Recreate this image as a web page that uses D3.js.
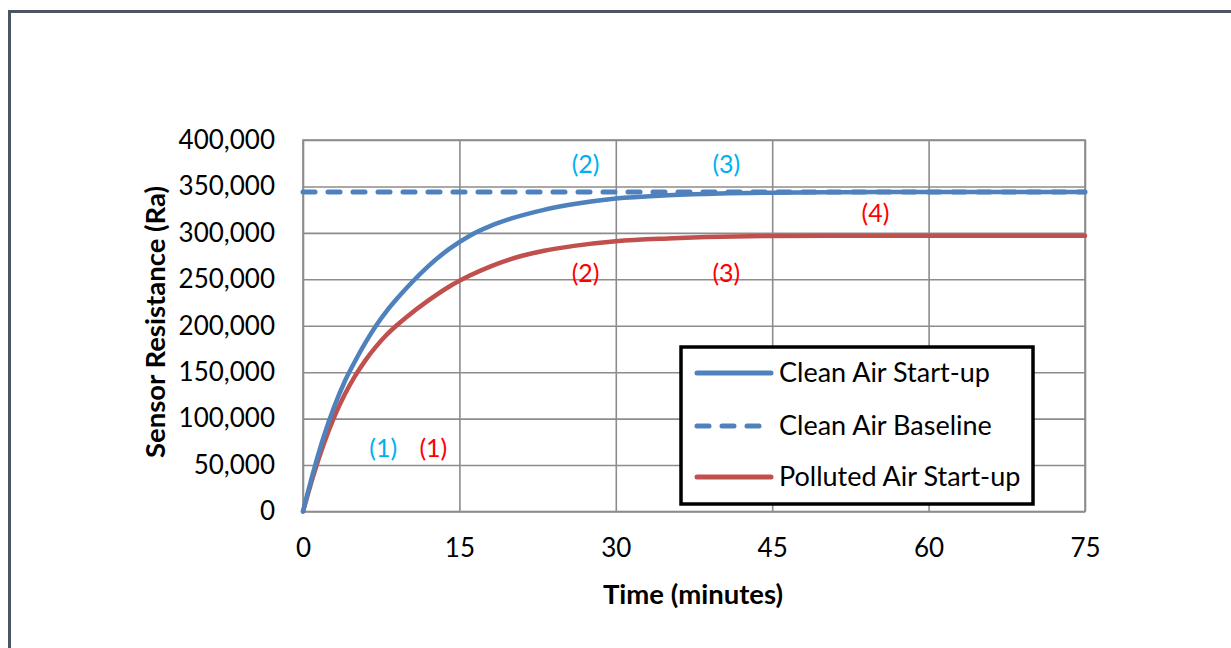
<!DOCTYPE html>
<html>
<head>
<meta charset="utf-8">
<script src="https://cdn.jsdelivr.net/npm/d3@7"></script>
<style>
  body { margin: 0; background: #fff; }
  text { font-family: Lato, 'Open Sans', sans-serif; fill: #000; }
</style>
</head>
<body>
<svg id="chart"></svg>
<script>
const width = 1231;
const height = 648;

// readings
const minutes = [0, 1, 2, 3, 4, 5, 6, 7, 8, 9, 10, 12, 14, 16, 18, 20, 23, 26, 30, 35, 40, 45, 50, 55, 60, 65, 70, 75];
const cleanStartup = [0, 43000, 81000, 113000, 140000, 162000, 182000, 200000, 215500, 229000, 241500, 264000, 282500, 297000, 307500, 315500, 324500, 331000, 337000, 340500, 342500, 343300, 343700, 344000, 344000, 344000, 344000, 344000];
const pollutedStartup = [0, 39000, 73000, 102000, 126000, 146000, 163000, 177500, 190000, 200500, 210000, 227000, 242000, 254000, 264000, 272000, 280500, 286000, 291000, 294000, 295800, 296600, 297000, 297000, 297000, 297000, 297000, 297000];
const baselineMinutes = [0, 75];
const cleanBaseline = [344000, 344000];

const xTicks = [0, 15, 30, 45, 60, 75];
const yTicks = [0, 50000, 100000, 150000, 200000, 250000, 300000, 350000, 400000];

const seriesNames = ['Clean Air Start-up', 'Clean Air Baseline', 'Polluted Air Start-up'];
const seriesColors = ['#4F81BD', '#4F81BD', '#C0504D'];

const markLabels = ['(1)', '(1)', '(2)', '(2)', '(3)', '(3)', '(4)'];
const markMinutes = [7.7, 12.5, 27.1, 27.1, 40.6, 40.6, 54.9];
const markValues = [68000, 68000, 374000, 257000, 374000, 257000, 321000];
const markColors = ['#00B0F0', '#FF0000', '#00B0F0', '#FF0000', '#00B0F0', '#FF0000', '#FF0000'];

const svg = d3.select('#chart')
    .attr('width', width)
    .attr('height', height);

// outer frame (top and left edges only are in view)
svg.append('path')
    .attr('d', `M9.5,${height} V11.5 H${width}`)
    .attr('fill', 'none')
    .attr('stroke', '#4A5561')
    .attr('stroke-width', 3);

const x = d3.scaleLinear().domain([0, 75]).range([303, 1085]);
const y = d3.scaleLinear().domain([0, 400000]).range([511.5, 140]);

const gridColor = '#8C8C8C';

const yAxis = svg.append('g')
    .attr('transform', `translate(${x(0)},0)`)
    .call(d3.axisLeft(y)
        .tickValues(yTicks)
        .tickFormat(d3.format(','))
        .tickSize(-(x(75) - x(0)))
        .tickPadding(28));
yAxis.select('.domain').remove();
yAxis.selectAll('line').attr('stroke', gridColor).attr('stroke-width', 1.6);
yAxis.selectAll('text').style('font-size', '26px').style('font-family', 'Lato');

const xAxis = svg.append('g')
    .attr('transform', `translate(0,${y(0)})`)
    .call(d3.axisBottom(x)
        .tickValues(xTicks)
        .tickSize(-(y(0) - y(400000)))
        .tickPadding(27));
xAxis.select('.domain').remove();
xAxis.selectAll('line').attr('stroke', gridColor).attr('stroke-width', 1.6);
xAxis.selectAll('text').style('font-size', '26px').style('font-family', 'Lato');

// plot area outline
svg.append('rect')
    .attr('x', x(0))
    .attr('y', y(400000))
    .attr('width', x(75) - x(0))
    .attr('height', y(0) - y(400000))
    .attr('fill', 'none')
    .attr('stroke', gridColor)
    .attr('stroke-width', 1.6);

const line = d3.line()
    .x(d => x(d[0]))
    .y(d => y(d[1]))
    .curve(d3.curveMonotoneX);

svg.append('path')
    .datum(d3.zip(baselineMinutes, cleanBaseline))
    .attr('d', line)
    .attr('fill', 'none')
    .attr('stroke', seriesColors[1])
    .attr('stroke-width', 5)
    .attr('stroke-linecap', 'round')
    .attr('stroke-dasharray', '12,13');

svg.append('path')
    .datum(d3.zip(minutes, pollutedStartup))
    .attr('d', line)
    .attr('fill', 'none')
    .attr('stroke', seriesColors[2])
    .attr('stroke-width', 4.5)
    .attr('stroke-linecap', 'round');

svg.append('path')
    .datum(d3.zip(minutes, cleanStartup))
    .attr('d', line)
    .attr('fill', 'none')
    .attr('stroke', seriesColors[0])
    .attr('stroke-width', 4.5)
    .attr('stroke-linecap', 'round');

// numbered markers
svg.append('g').selectAll('text')
    .data(markLabels)
    .enter().append('text')
    .attr('x', (d, i) => x(markMinutes[i]))
    .attr('y', (d, i) => y(markValues[i]))
    .attr('dy', '0.35em')
    .attr('text-anchor', 'middle')
    .style('font-size', '25px')
    .style('fill', (d, i) => markColors[i])
    .text(d => d);

// axis titles
svg.append('text')
    .attr('x', 693)
    .attr('y', 594)
    .attr('dy', '0.35em')
    .attr('text-anchor', 'middle')
    .style('font-size', '27.5px')
    .style('font-weight', 'bold')
    .text('Time (minutes)');

svg.append('text')
    .attr('transform', 'translate(155,322) rotate(-90)')
    .attr('dy', '0.35em')
    .attr('text-anchor', 'middle')
    .style('font-size', '27.5px')
    .style('font-weight', 'bold')
    .text('Sensor Resistance (Ra)');

// legend
const legend = svg.append('g');
legend.append('rect')
    .attr('x', 681)
    .attr('y', 347)
    .attr('width', 352)
    .attr('height', 157)
    .attr('fill', '#fff')
    .attr('stroke', '#000')
    .attr('stroke-width', 3.5);

const rowY = [373, 426, 477];
const item = legend.selectAll('g.item')
    .data(seriesNames)
    .enter().append('g')
    .attr('class', 'item')
    .attr('transform', (d, i) => `translate(0,${rowY[i]})`);

item.append('line')
    .attr('x1', 697)
    .attr('x2', (d, i) => i === 1 ? 760 : 771)
    .attr('stroke', (d, i) => seriesColors[i])
    .attr('stroke-width', 5)
    .attr('stroke-linecap', 'round')
    .attr('stroke-dasharray', (d, i) => i === 1 ? '12,13' : null);

item.append('text')
    .attr('x', 779)
    .attr('dy', '0.35em')
    .style('font-size', '27px')
    .text(d => d);
</script>
</body>
</html>
